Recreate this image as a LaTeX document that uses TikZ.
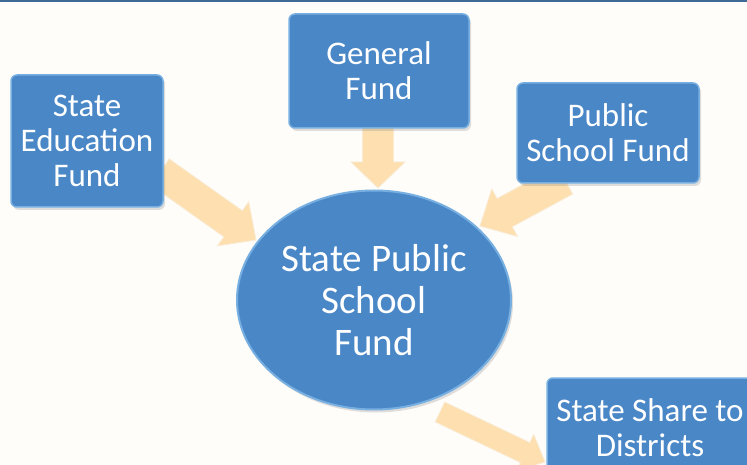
\documentclass[tikz,border=0pt]{standalone}
\usepackage{fontspec}
\setmainfont{Carlito}
\usetikzlibrary{calc,shadows,shapes.geometric}
\definecolor{boxblue}{RGB}{74,135,199}
\definecolor{boxedge}{RGB}{120,175,225}
\definecolor{arrowfill}{RGB}{253,223,176}
\definecolor{arrowedge}{RGB}{250,235,210}
\definecolor{topline}{RGB}{63,106,151}
\definecolor{bg}{RGB}{254,253,250}
\tikzset{
  bluebox/.style={draw=boxedge, line width=1.5pt, fill=boxblue, rounded corners=6pt,
    text=white, align=center, inner sep=0pt,
    font=\fontsize{33}{35}\selectfont,
    drop shadow={shadow xshift=2pt, shadow yshift=-3pt, opacity=0.25}},
  blueellipse/.style={draw=boxedge, line width=2pt, fill=boxblue, ellipse, text=white, align=center,
    font=\fontsize{39}{42}\selectfont,
    drop shadow={shadow xshift=2pt, shadow yshift=-3pt, opacity=0.25}},
  bigarrow/.style={fill=arrowfill, draw=arrowedge, line width=0.8pt, line join=miter}
}
\newcommand\blockarrow[5]{% from, to, shaft width, head width, head length
  \path let \p1=($(#2)-(#1)$), \n1={atan2(\y1,\x1)}, \n2={veclen(\x1,\y1)} in
    [shift={(#1)}, rotate=\n1, x=1pt, y=1pt]
    [bigarrow] (0,-#3/2) -- (\n2-#5,-#3/2) -- (\n2-#5,-#4/2) -- (\n2,0)
    -- (\n2-#5,#4/2) -- (\n2-#5,#3/2) -- (0,#3/2) -- cycle;}
\begin{document}
\begin{tikzpicture}[x=1pt,y=-1pt]
\useasboundingbox (0,0) rectangle (747,465);
\clip (0,0) rectangle (747,465);
\fill[bg] (0,0) rectangle (747,465);
\fill[topline] (0,0) rectangle (747,2.5);

% arrows (drawn first, beneath nodes)
\coordinate (a1s) at (160,172);
\coordinate (a1e) at (256,240);
\coordinate (a2s) at (378,124);
\coordinate (a2e) at (378,188);
\coordinate (a3s) at (565,180);
\coordinate (a3e) at (480,226);
\coordinate (a4s) at (440,412);
\coordinate (a4e) at (545,462);
\blockarrow{a1s}{a1e}{32}{54}{28}
\blockarrow{a2s}{a2e}{31}{54}{26}
\blockarrow{a3s}{a3e}{32}{54}{28}
\blockarrow{a4s}{a4e}{22}{40}{22}

\node[bluebox, minimum width=180pt, minimum height=114pt] (gf) at (379,71) {General\\Fund};
\node[bluebox, minimum width=152pt, minimum height=132pt] (sef) at (87,141) {State\\Education\\Fund};
\node[bluebox, minimum width=182pt, minimum height=100pt] (psf) at (608,133) {Public\\School Fund};
\node[blueellipse, minimum width=274pt, minimum height=219pt, inner sep=0pt] (spsf) at (374,300) {State Public\\School\\Fund};
\node[bluebox, minimum width=206pt, minimum height=100pt] (ssd) at (650,428) {State Share to\\Districts};
\end{tikzpicture}
\end{document}
